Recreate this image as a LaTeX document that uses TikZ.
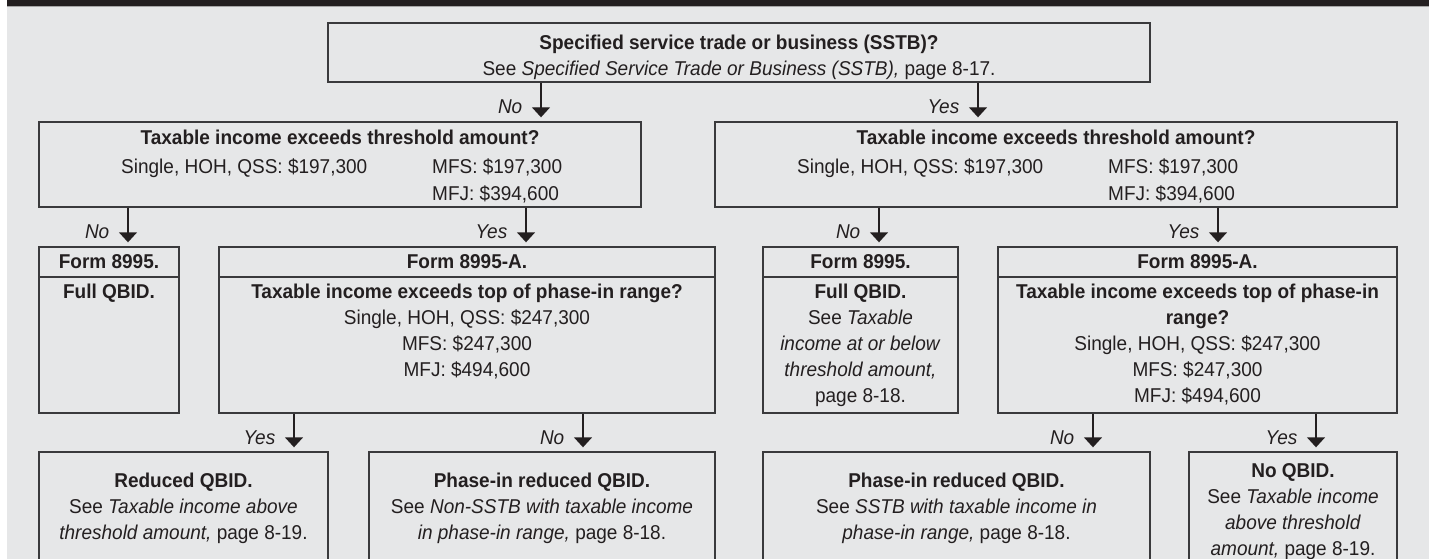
\documentclass[tikz,border=0pt]{standalone}
\usepackage{fontspec}
\setmainfont{Liberation Sans}[FakeStretch=0.95]
\usetikzlibrary{arrows.meta}
\definecolor{pageGrey}{HTML}{E6E7E8}
\definecolor{inkBlack}{HTML}{231F20}
\definecolor{frameGrey}{HTML}{3A3A3C}

\tikzset{
  box/.style={draw=frameGrey, line width=1.4pt, inner sep=0pt},
  txt/.style={text=inkBlack, align=center, inner sep=0pt, font=\fontsize{20}{26}\selectfont},
  btxt/.style={txt, font=\fontsize{20}{26}\selectfont\bfseries},
  flow/.style={draw=inkBlack, line width=1.4pt, -{Triangle[width=18pt,length=10pt]}, shorten >=4pt},
  ans/.style={text=inkBlack, inner sep=0pt, anchor=east, xshift=-18pt, font=\fontsize{20}{26}\selectfont\itshape},
}

\begin{document}
\begin{tikzpicture}[x=1pt, y=-1pt]
  \useasboundingbox (0,0) rectangle (1429,559);
  \clip (0,0) rectangle (1429,559);
  % Page
  \fill[white] (0,0) rectangle (1429,559);
  \fill[pageGrey] (7,0) rectangle (1429,559);
  \fill[inkBlack] (7,0) rectangle (1429,6);
  \fill[gray!70] (7,6) rectangle (1429,7);

  % Arrow columns
  \coordinate (sstbNo) at (541,0);  \coordinate (sstbYes) at (978,0);
  \coordinate (thrLNo) at (128,0);  \coordinate (thrLYes) at (526,0);
  \coordinate (thrRNo) at (879,0);  \coordinate (thrRYes) at (1218,0);
  \coordinate (f95ALYes) at (294,0); \coordinate (f95ALNo) at (583,0);
  \coordinate (f95ARNo) at (1093,0); \coordinate (f95ARYes) at (1316,0);

  % SSTB question
  \node[box, minimum width=822pt, minimum height=59pt] (sstb) at (739,52.5) {};
  \node[txt, anchor=north] (sstbT) at (739,30.8) {\strut\textbf{Specified service trade or business (SSTB)?}\\See \textit{Specified Service Trade or Business (SSTB),} page 8-17.};

  % Threshold, left (non-SSTB)
  \node[box, minimum width=602pt, minimum height=85pt] (thrL) at (340,164.5) {};
  \node[btxt, anchor=base] (thrLq) at (340,145) {Taxable income exceeds threshold amount?};
  \node[txt, anchor=base west] (thrLs) at (121,173) {Single, HOH, QSS: \$197,300};
  \node[txt, anchor=base west] (thrLm) at (432,173) {MFS: \$197,300};
  \node[txt, anchor=base west] (thrLj) at (432,200) {MFJ: \$394,600};

  % Threshold, right (SSTB)
  \node[box, minimum width=682pt, minimum height=85pt] (thrR) at (1056,164.5) {};
  \node[btxt, anchor=base] (thrRq) at (1056,145) {Taxable income exceeds threshold amount?};
  \node[txt, anchor=base west] (thrRs) at (797,173) {Single, HOH, QSS: \$197,300};
  \node[txt, anchor=base west] (thrRm) at (1108,173) {MFS: \$197,300};
  \node[txt, anchor=base west] (thrRj) at (1108,200) {MFJ: \$394,600};

  % Form 8995 / 8995-A, left
  \node[box, btxt, minimum width=140pt, minimum height=30pt] (f95Lh) at (109,262) {Form 8995.};
  \node[box, minimum width=140pt, minimum height=136pt] (f95L) at (109,345) {};
  \node[txt, anchor=north] (f95Lt) at (109,279.8) {\strut\textbf{Full QBID.}};
  \node[box, btxt, minimum width=496pt, minimum height=30pt] (f95ALh) at (467,262) {Form 8995-A.};
  \node[box, minimum width=496pt, minimum height=136pt] (f95AL) at (467,345) {};
  \node[txt, anchor=north] (f95ALt) at (467,279.8) {\strut\textbf{Taxable income exceeds top of phase-in range?}\\Single, HOH, QSS: \$247,300\\MFS: \$247,300\\MFJ: \$494,600};

  % Form 8995 / 8995-A, right
  \node[box, btxt, minimum width=195pt, minimum height=30pt] (f95Rh) at (860.5,262) {Form 8995.};
  \node[box, minimum width=195pt, minimum height=136pt] (f95R) at (860.5,345) {};
  \node[txt, anchor=north] (f95Rt) at (860.5,279.8) {\strut\textbf{Full QBID.}\\See \textit{Taxable}\\\textit{income at or below}\\\textit{threshold amount,}\\page 8-18.};
  \node[box, btxt, minimum width=399pt, minimum height=30pt] (f95ARh) at (1197.5,262) {Form 8995-A.};
  \node[box, minimum width=399pt, minimum height=136pt] (f95AR) at (1197.5,345) {};
  \node[txt, anchor=north] (f95ARt) at (1197.5,279.8) {\strut\textbf{Taxable income exceeds top of phase-in}\\\textbf{range?}\\Single, HOH, QSS: \$247,300\\MFS: \$247,300\\MFJ: \$494,600};

  % Outcomes (run off the page)
  \node[box, minimum width=289pt, minimum height=128pt] (redL) at (183.5,516) {};
  \node[txt, anchor=north] (redLt) at (183.5,468.8) {\strut\textbf{Reduced QBID.}\\See \textit{Taxable income above}\\\textit{threshold amount,} page 8-19.};
  \node[box, minimum width=346pt, minimum height=128pt] (phL) at (542,516) {};
  \node[txt, anchor=north] (phLt) at (542,468.8) {\strut\textbf{Phase-in reduced QBID.}\\See \textit{Non-SSTB with taxable income}\\\textit{in phase-in range,} page 8-18.};
  \node[box, minimum width=387pt, minimum height=128pt] (phR) at (956.5,516) {};
  \node[txt, anchor=north] (phRt) at (956.5,468.8) {\strut\textbf{Phase-in reduced QBID.}\\See \textit{SSTB with taxable income in}\\\textit{phase-in range,} page 8-18.};
  \node[box, minimum width=208pt, minimum height=128pt] (noQ) at (1293,516) {};
  \node[txt, anchor=north] (noQt) at (1293,458.8) {\strut\textbf{No QBID.}\\See \textit{Taxable income}\\\textit{above threshold}\\\textit{amount,} page 8-19.};

  % Connectors
  \draw[flow] (sstb.south -| sstbNo) -- node[ans, pos=.63] (aNo1) {No} (thrL.north -| sstbNo);
  \draw[flow] (sstb.south -| sstbYes) -- node[ans, pos=.63] (aYes1) {Yes} (thrR.north -| sstbYes);
  \draw[flow] (thrL.south -| thrLNo) -- node[ans, pos=.63] (aNo2) {No} (f95Lh.north -| thrLNo);
  \draw[flow] (thrL.south -| thrLYes) -- node[ans, pos=.63] (aYes2) {Yes} (f95ALh.north -| thrLYes);
  \draw[flow] (thrR.south -| thrRNo) -- node[ans, pos=.63] (aNo3) {No} (f95Rh.north -| thrRNo);
  \draw[flow] (thrR.south -| thrRYes) -- node[ans, pos=.63] (aYes3) {Yes} (f95ARh.north -| thrRYes);
  \draw[flow] (f95AL.south -| f95ALYes) -- node[ans, pos=.63] (aYes4) {Yes} (redL.north -| f95ALYes);
  \draw[flow] (f95AL.south -| f95ALNo) -- node[ans, pos=.63] (aNo4) {No} (phL.north -| f95ALNo);
  \draw[flow] (f95AR.south -| f95ARNo) -- node[ans, pos=.63] (aNo5) {No} (phR.north -| f95ARNo);
  \draw[flow] (f95AR.south -| f95ARYes) -- node[ans, pos=.63] (aYes5) {Yes} (noQ.north -| f95ARYes);
\end{tikzpicture}
\end{document}
